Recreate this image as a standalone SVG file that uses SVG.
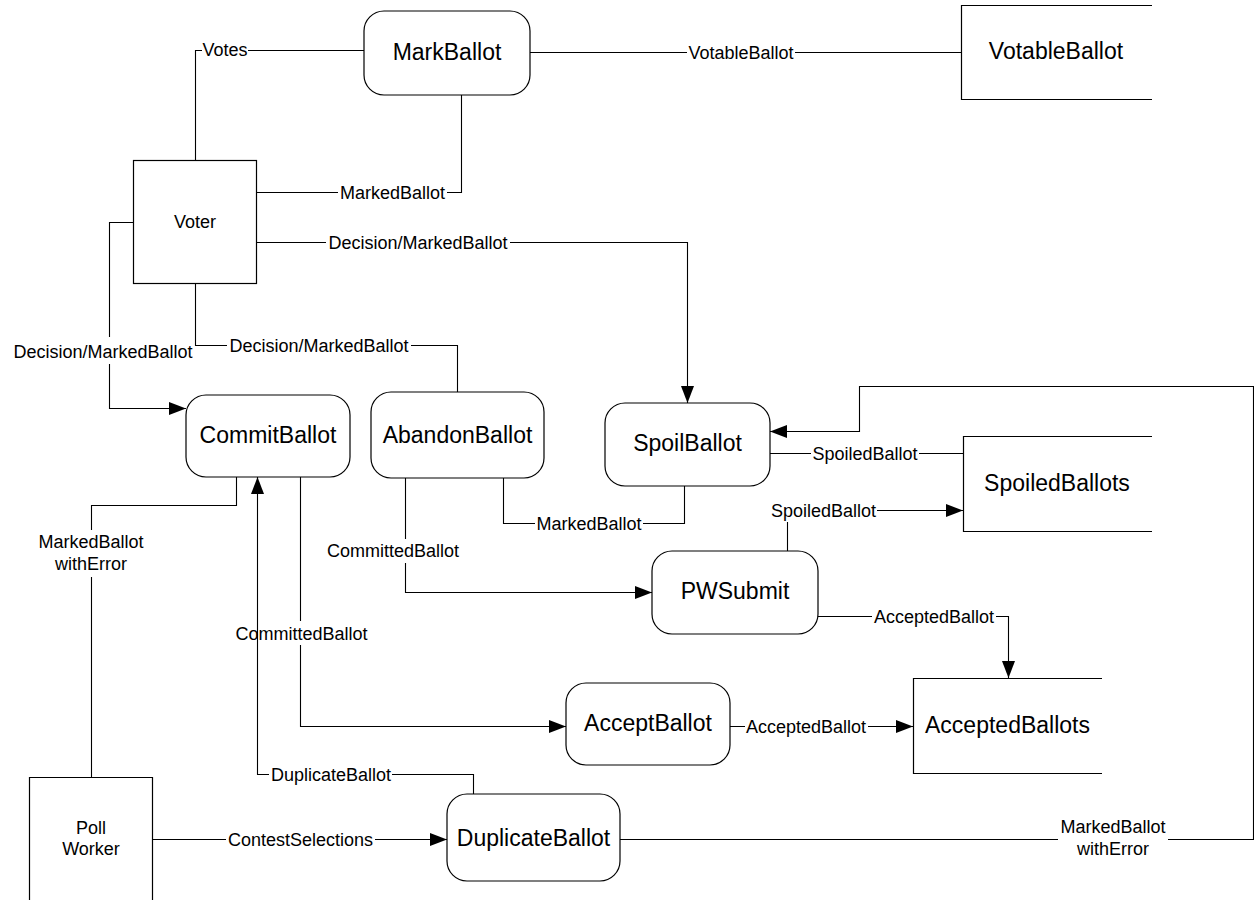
<svg xmlns="http://www.w3.org/2000/svg" width="1254" height="900" viewBox="0 0 1254 900">
<style>
.node{fill:#fff;stroke:#000;stroke-width:1.2}
.store{fill:none;stroke:#000;stroke-width:1.2}
.ntext{font-family:"Liberation Sans",Arial,sans-serif;font-size:23px;fill:#000;text-anchor:middle}
.stext{font-family:"Liberation Sans",Arial,sans-serif;font-size:18px;fill:#000;text-anchor:middle}
.conn{fill:none;stroke:#000;stroke-width:1.1}
.lbl{font-family:"Liberation Sans",Arial,sans-serif;font-size:18px;fill:#000;text-anchor:middle}
</style>
<defs>
<marker id="arr" markerUnits="userSpaceOnUse" markerWidth="18" markerHeight="14" refX="17" refY="6.5" orient="auto">
<path d="M0,0 L17,6.5 L0,13 z" fill="#000"/>
</marker>
</defs>
<rect width="1254" height="900" fill="#fff"/>

<g id="connectors">
<path class="conn" d="M195.5,160 V50.5 H202 M248,50.5 H364"/>
<path class="conn" d="M530,52.5 H687 M795,52.5 H961"/>
<path class="conn" d="M461.5,95 V192.5 H447 M338,192.5 H257"/>
<path class="conn" d="M256,242.5 H326 M510,242.5 H687.5 V403" marker-end="url(#arr)"/>
<path class="conn" d="M133,222.5 H109.5 V337 M109.5,364 V408.5 H186" marker-end="url(#arr)"/>
<path class="conn" d="M195.5,283 V345.5 H227 M411,345.5 H457.5 V392"/>
<path class="conn" d="M236.5,477 V505.5 H91.5 V530 M91.5,577 V777"/>
<path class="conn" d="M473.5,794 V774.5 H392 M269,774.5 H257.5 V477" marker-end="url(#arr)"/>
<path class="conn" d="M300.5,477 V621 M300.5,645 V726.5 H566" marker-end="url(#arr)"/>
<path class="conn" d="M405.5,478 V539 M405.5,563 V592.5 H652" marker-end="url(#arr)"/>
<path class="conn" d="M503.5,478 V523.5 H535 M643,523.5 H684.5 V486"/>
<path class="conn" d="M770,453.5 H811 M919,453.5 H963"/>
<path class="conn" d="M787.5,551 V522 M877,510.5 H963" marker-end="url(#arr)"/>
<path class="conn" d="M818,616.5 H872 M996,616.5 H1008.5 V678" marker-end="url(#arr)"/>
<path class="conn" d="M730,726.5 H745 M868,726.5 H913" marker-end="url(#arr)"/>
<path class="conn" d="M620,839.5 H1058 M1168,839.5 H1253.5 V386.5 H859.5 V431.5 H770" marker-end="url(#arr)"/>
<path class="conn" d="M152,839.5 H226 M375,839.5 H447" marker-end="url(#arr)"/>

<text class="lbl" x="225" y="56">Votes</text>
<text class="lbl" x="741" y="58.5">VotableBallot</text>
<text class="lbl" x="392.5" y="198.5">MarkedBallot</text>
<text class="lbl" x="418" y="248.5">Decision/MarkedBallot</text>
<text class="lbl" x="103" y="358">Decision/MarkedBallot</text>
<text class="lbl" x="319" y="351.5">Decision/MarkedBallot</text>
<text class="lbl" x="91" y="548">MarkedBallot</text>
<text class="lbl" x="91" y="570">withError</text>
<text class="lbl" x="331" y="780.5">DuplicateBallot</text>
<text class="lbl" x="301.5" y="640">CommittedBallot</text>
<text class="lbl" x="393" y="557">CommittedBallot</text>
<text class="lbl" x="589" y="529.5">MarkedBallot</text>
<text class="lbl" x="865" y="459.5">SpoiledBallot</text>
<text class="lbl" x="823.5" y="516.5">SpoiledBallot</text>
<text class="lbl" x="934" y="622.5">AcceptedBallot</text>
<text class="lbl" x="806" y="732.5">AcceptedBallot</text>
<text class="lbl" x="1113" y="833">MarkedBallot</text>
<text class="lbl" x="1113" y="855">withError</text>
<text class="lbl" x="300.5" y="845.5">ContestSelections</text>
</g>

<g id="MarkBallot">
<rect class="node" x="364" y="11" width="166" height="84" rx="20"/>
<text class="ntext" x="447" y="60">MarkBallot</text>
</g>
<g id="VotableBallot">
<path class="store" d="M1152,5.5 H961.5 V99.5 H1152"/>
<text class="ntext" x="1056" y="59">VotableBallot</text>
</g>
<g id="Voter">
<rect class="node" x="133.5" y="160.5" width="123" height="123"/>
<text class="stext" x="195" y="228">Voter</text>
</g>
<g id="CommitBallot">
<rect class="node" x="186" y="395" width="164" height="82" rx="20"/>
<text class="ntext" x="268" y="443">CommitBallot</text>
</g>
<g id="AbandonBallot">
<rect class="node" x="371" y="392" width="173" height="86" rx="20"/>
<text class="ntext" x="457.5" y="443">AbandonBallot</text>
</g>
<g id="SpoilBallot">
<rect class="node" x="605" y="403" width="165" height="83" rx="20"/>
<text class="ntext" x="687.5" y="451">SpoilBallot</text>
</g>
<g id="SpoiledBallots">
<path class="store" d="M1152,436.5 H963.5 V531.5 H1152"/>
<text class="ntext" x="1057" y="491">SpoiledBallots</text>
</g>
<g id="PWSubmit">
<rect class="node" x="652" y="551" width="166" height="83" rx="20"/>
<text class="ntext" x="735" y="599">PWSubmit</text>
</g>
<g id="AcceptBallot">
<rect class="node" x="566" y="683" width="164" height="82" rx="20"/>
<text class="ntext" x="648" y="731">AcceptBallot</text>
</g>
<g id="AcceptedBallots">
<path class="store" d="M1102,678.5 H913.5 V773.5 H1102"/>
<text class="ntext" x="1007.5" y="733">AcceptedBallots</text>
</g>
<g id="PollWorker">
<path class="store" d="M29.5,905 V777.5 H152.5 V905"/>
<text class="stext" x="91" y="834">Poll</text>
<text class="stext" x="91" y="855">Worker</text>
</g>
<g id="DuplicateBallot">
<rect class="node" x="447" y="794" width="173" height="87" rx="20"/>
<text class="ntext" x="533.5" y="846">DuplicateBallot</text>
</g>
</svg>
